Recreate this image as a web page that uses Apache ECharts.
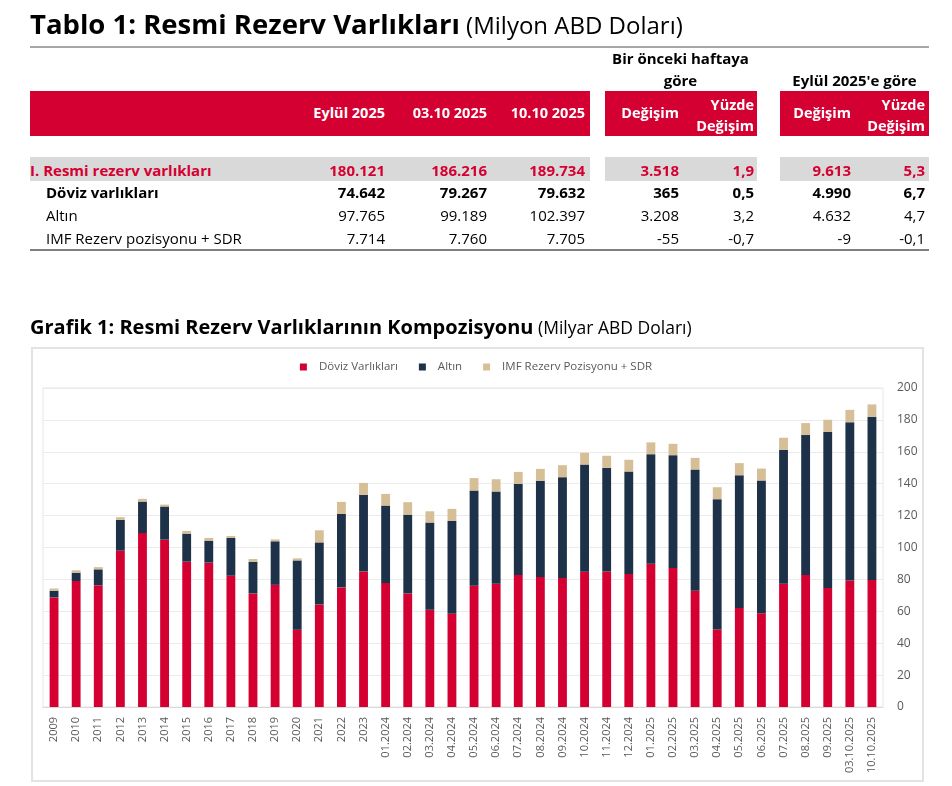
<!DOCTYPE html>
<html><head><meta charset="utf-8">
<script src="https://cdn.jsdelivr.net/npm/echarts@6/dist/echarts.min.js"></script>
<style>
body{margin:0;background:#fff;font-family:"Open Sans",sans-serif;width:952px;height:786px;overflow:hidden;position:relative;}
.a{position:absolute;white-space:nowrap;line-height:1;}
.band{position:absolute;background:#D50032;}
.hd{color:#fff;font-weight:bold;font-size:14.5px;}
.v{font-size:15px;color:#000;}
#chart{position:absolute;left:0;top:0;width:952px;height:786px;}
#box{position:absolute;left:31px;top:347px;width:889px;height:431px;border:2px solid #e3e3e3;}
</style></head>
<body>
<div id="box"></div>
<div id="chart"></div>
<div id="tbl"></div>
<script>
var categories=['2009','2010','2011','2012','2013','2014','2015','2016','2017','2018','2019','2020','2021','2022','2023',
'01.2024','02.2024','03.2024','04.2024','05.2024','06.2024','07.2024','08.2024','09.2024','10.2024','11.2024','12.2024',
'01.2025','02.2025','03.2025','04.2025','05.2025','06.2025','07.2025','08.2025','09.2025','03.10.2025','10.10.2025'];
var doviz=[68.7,79.0,76.4,98.0,109.1,104.9,91.1,90.5,82.3,71.2,76.6,48.4,64.3,75.0,85.0,
77.7,71.2,60.9,58.4,76.0,77.3,82.7,81.5,80.8,84.8,85.0,83.4,
89.8,87.1,72.9,48.6,62.0,58.8,77.3,82.7,74.6,79.3,79.6];
var altin=[4.2,5.2,9.9,19.3,19.7,20.8,17.6,13.8,23.7,19.9,27.3,43.5,38.9,46.0,48.0,
48.6,49.4,54.7,58.2,59.7,57.8,57.2,60.3,63.3,67.2,64.9,64.2,
68.7,70.8,76.0,81.7,83.3,83.2,84.0,87.8,97.8,99.2,102.4];
var imf=[1.4,1.5,1.4,1.7,1.7,1.2,1.7,1.7,1.2,1.7,1.2,1.3,7.6,7.6,7.5,
7.3,7.8,7.1,7.6,7.8,7.7,7.5,7.5,7.5,7.4,7.6,7.4,
7.4,7.1,7.3,7.5,7.6,7.5,7.5,7.5,7.7,7.8,7.7];
var yTicks=[0,20,40,60,80,100,120,140,160,180,200];
var seriesNames=['Döviz Varlıkları','Altın','IMF Rezerv Pozisyonu + SDR'];

// table data
var colHeads=['Eylül 2025','03.10 2025','10.10 2025'];
var rowLabels=['I. Resmi rezerv varlıkları','Döviz varlıkları','Altın','IMF Rezerv pozisyonu + SDR'];
var rowValues=[
 ['180.121','186.216','189.734','3.518','1,9','9.613','5,3'],
 ['74.642','79.267','79.632','365','0,5','4.990','6,7'],
 ['97.765','99.189','102.397','3.208','3,2','4.632','4,7'],
 ['7.714','7.760','7.705','-55','-0,7','-9','-0,1']
];

var T=document.getElementById('tbl');
function add(html,style,cls){var d=document.createElement('div');d.className='a '+(cls||'');d.innerHTML=html;d.setAttribute('style',style);T.appendChild(d);return d;}
add('<span style="font-weight:bold;font-size:27.5px;">Tablo 1: Resmi Rezerv Varlıkları</span><span style="font-size:24px;"> (Milyon ABD Doları)</span>','left:30px;top:10px;color:#000;');
add('','left:30px;top:46px;width:899px;height:2px;background:#a6a6a6;');
add('Bir önceki haftaya','left:605px;width:151px;top:51px;text-align:center;font-weight:bold;font-size:15px;');
add('göre','left:605px;width:151px;top:73px;text-align:center;font-weight:bold;font-size:15px;');
add('Eylül 2025\'e göre','left:780px;width:149px;top:73px;text-align:center;font-weight:bold;font-size:15px;');
add('','left:30px;top:91px;width:560px;height:45px;','band');
add('','left:605px;top:91px;width:152px;height:45px;','band');
add('','left:780px;top:91px;width:149px;height:45px;','band');
var rights=[385,487,585,679,754,851,925];
colHeads.forEach(function(h,i){add(h,'right:'+(952-rights[i])+'px;top:106px;','hd');});
add('Değişim','right:'+(952-rights[3])+'px;top:106px;','hd');
add('Yüzde<br>Değişim','right:'+(952-rights[4])+'px;top:94px;line-height:21px;text-align:right;','hd');
add('Değişim','right:'+(952-rights[5])+'px;top:106px;','hd');
add('Yüzde<br>Değişim','right:'+(952-rights[6])+'px;top:94px;line-height:21px;text-align:right;','hd');
add('','left:30px;top:157px;width:560px;height:24px;background:#d9d9d9;');
add('','left:605px;top:157px;width:152px;height:24px;background:#d9d9d9;');
add('','left:780px;top:157px;width:149px;height:24px;background:#d9d9d9;');
var rowY=[163,185,208,231];
rowLabels.forEach(function(l,r){
  var st=r===0?'color:#D50032;font-weight:bold;':(r===1?'font-weight:bold;':'');
  add(l,'left:'+(r===0?30:46)+'px;top:'+rowY[r]+'px;'+st,'v');
  rowValues[r].forEach(function(v,c){add(v,'right:'+(952-rights[c])+'px;top:'+rowY[r]+'px;'+st,'v');});
});
add('','left:30px;top:249px;width:899px;height:2px;background:#7f7f7f;');
add('<span style="font-weight:bold;font-size:20px;">Grafik 1: Resmi Rezerv Varlıklarının Kompozisyonu</span><span style="font-size:17.5px"> (Milyar ABD Doları)</span>','left:30px;top:317px;color:#000;');

var chart=echarts.init(document.getElementById('chart'),null,{renderer:'canvas'});
var colors=['#D50032','#1D3148','#D6BE96'];
var vals=[doviz,altin,imf];
chart.setOption({
  animation:false,
  textStyle:{fontFamily:'Open Sans'},
  legend:{top:356,left:'center',itemWidth:7,itemHeight:7,itemGap:21,icon:'rect',
    textStyle:{color:'#595959',fontSize:11.5,padding:[0,0,0,7]},data:seriesNames},
  grid:{left:43,right:69,top:388,bottom:79,show:true,borderColor:'#e6e6e6',borderWidth:1},
  xAxis:{type:'category',data:categories,
    axisLine:{lineStyle:{color:'#d9d9d9',width:1}},axisTick:{show:false},
    axisLabel:{rotate:90,interval:0,color:'#595959',fontSize:11,margin:10}},
  yAxis:{type:'value',position:'right',min:yTicks[0],max:yTicks[yTicks.length-1],interval:yTicks[1]-yTicks[0],
    axisLine:{show:false},axisTick:{show:false},
    axisLabel:{color:'#595959',fontSize:12,margin:14},
    splitLine:{lineStyle:{color:'#ebebeb',width:1}}},
  series:seriesNames.map(function(n,i){return {name:n,type:'bar',stack:'t',data:vals[i],barWidth:'40%',
    itemStyle:{color:colors[i]}};})
});
</script>
</body></html>
